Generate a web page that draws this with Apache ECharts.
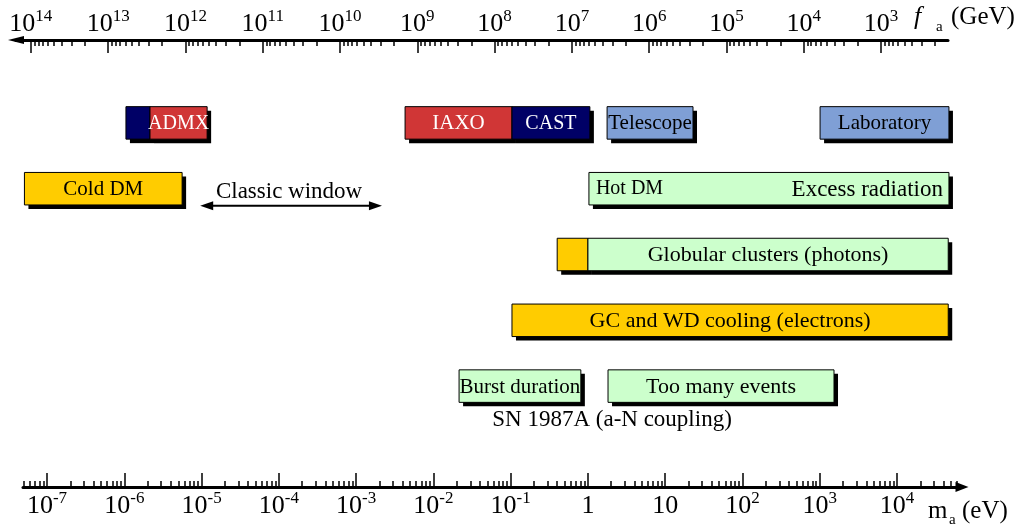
<!DOCTYPE html>
<html>
<head>
<meta charset="utf-8">
<script src="https://cdn.jsdelivr.net/npm/echarts@6/dist/echarts.min.js"></script>
<style>
html,body{margin:0;padding:0;background:#fff;}
#c{width:1021px;height:527px;}
</style>
</head>
<body>
<div id="c"></div>
<script>
// ---------------- data ----------------
// decade exponents labelled on the bottom (m_a, eV) axis
const maLabelExp = [-7, -6, -5, -4, -3, -2, -1, 0, 1, 2, 3, 4];
// decade exponents labelled on the top (f_a, GeV) axis
const faLabelExp = [14, 13, 12, 11, 10, 9, 8, 7, 6, 5, 4, 3];
// f_a [GeV] * m_a [eV]
const FA_TIMES_MA = 6.2e6;

// boxes: start / end mass (eV), row (0 = top), colour kind, label
const barStart = [1.05e-6, 2.15e-6, 4.3e-3, 0.104, 1.77, 1010, 5.1e-8, 1.03, 0.40, 1.0, 0.104, 0.0215, 1.82];
const barEnd   = [2.15e-6, 1.18e-5, 0.104, 1.06, 22.9, 4.7e4, 5.6e-6, 4.7e4, 1.0, 4.6e4, 4.6e4, 0.81, 1530];
const barRow   = [0, 0, 0, 0, 0, 0, 1, 1, 2, 2, 3, 4, 4];
const barKind  = ['navy', 'red', 'red', 'navy', 'blue', 'blue', 'gold', 'green', 'gold', 'green', 'gold', 'green', 'green'];
const barLabel = ['', 'ADMX', 'IAXO', 'CAST', 'Telescope', 'Laboratory', 'Cold DM', '', '',
                  'Globular clusters (photons)', 'GC and WD cooling (electrons)', 'Burst duration', 'Too many events'];

// labels pinned to an edge of the Hot DM box
const edgeLabelText = ['Hot DM', 'Excess radiation'];
const edgeLabelMass = [1.03, 4.7e4];
const edgeLabelRow  = [1, 1];
const edgeLabelSide = ['left', 'right'];

// classic window arrow
const windowText  = 'Classic window';
const windowRange = [9.6e-6, 2.16e-3];
const windowRow   = 1;

// SN 1987A caption
const snText = 'SN 1987A (a-N coupling)';
const snMass = 2.05;
const snRow  = 4;

// ---------------- styles ----------------
const SERIF = '"Liberation Serif", "Times New Roman", serif';
const COLORS = {navy: '#000066', red: '#d03636', blue: '#7f9fd5', gold: '#ffcc00', green: '#ccffcc'};
const TEXT_COLORS = {navy: '#ffffff', red: '#ffffff', blue: '#000', gold: '#000', green: '#000'};
const LABEL_SIZE = {'ADMX': 20, 'CAST': 20, 'Globular clusters (photons)': 22,
  'GC and WD cooling (electrons)': 22, 'Too many events': 22, 'Burst duration': 21};
const BAR_H = 32.5;
const SHADOW = 4;

const lg = Math.log10;
const massMin = -7.311, massMax = 4.841;   // bottom axis extent, log10(eV)
const topMin = -7.40, topMax = 4.659;      // top axis extent, log10(eV)
const lc = lg(FA_TIMES_MA);

const minorBottom = [];
for (let d = -8; d <= 4; d++) for (let k = 2; k <= 9; k++) {
  const v = d + lg(k); if (v > massMin && v < massMax) minorBottom.push(v);
}
const majorTop = faLabelExp.map(e => lc - e);
const minorTop = [];
for (let d = 2; d <= 14; d++) for (let k = 2; k <= 9; k++) {
  const v = lc - d - lg(k); if (v > topMin && v < topMax) minorTop.push(v);
}

const richLab = {
  b: {fontSize: 26, fontFamily: SERIF, color: '#000', lineHeight: 30},
  s: {fontSize: 17, fontFamily: SERIF, color: '#000', lineHeight: 16, padding: [0, 0, 15, 0]}
};

function hiddenY(g, extra) { return Object.assign({type: 'value', gridIndex: g, show: false, min: 0, max: 1}, extra || {}); }

const chart = echarts.init(document.getElementById('c'));

function rectOf(api) {
  const a = api.coord([api.value(0), api.value(2)]);
  const b = api.coord([api.value(1), api.value(2)]);
  return {x: a[0], y: a[1] - BAR_H / 2, width: b[0] - a[0], height: BAR_H};
}

const barData = barStart.map((s, i) => [lg(s), lg(barEnd[i]), barRow[i], i]);

const gridCommon = {outerBoundsMode: 'none', containLabel: false};

chart.setOption({
  backgroundColor: '#fff',
  animation: false,
  grid: [
    Object.assign({left: 23, right: 1021 - 962, bottom: 40, top: 300}, gridCommon),
    Object.assign({left: 23, right: 1021 - 962, bottom: 40, top: 300}, gridCommon),
    Object.assign({left: 16, right: 1021 - 948, top: 40, bottom: 300}, gridCommon),
    Object.assign({left: 16, right: 1021 - 948, top: 40, bottom: 300}, gridCommon),
    Object.assign({left: 23, right: 1021 - 962, top: 90, bottom: 108}, gridCommon)
  ],
  xAxis: [
    { // bottom major
      type: 'value', gridIndex: 0, min: massMin, max: massMax, position: 'bottom',
      splitLine: {show: false},
      axisLine: {show: true, onZero: false, lineStyle: {color: '#000', width: 3}, symbol: ['none', 'triangle'], symbolSize: [10, 13]},
      axisTick: {show: true, inside: true, length: 14, lineStyle: {color: '#000', width: 1.5}, customValues: maLabelExp},
      axisLabel: {show: true, margin: 4, customValues: maLabelExp, rich: richLab,
        formatter: v => { const e = Math.round(v); if (e === 0) return '{b|1}'; if (e === 1) return '{b|10}'; return '{b|10}{s|' + e + '}'; }}
    },
    { // bottom minor
      type: 'value', gridIndex: 1, min: massMin, max: massMax, position: 'bottom',
      splitLine: {show: false}, axisLine: {show: false, onZero: false}, axisLabel: {show: false},
      axisTick: {show: true, inside: true, length: 6, lineStyle: {color: '#000', width: 1.5}, customValues: minorBottom}
    },
    { // top major
      type: 'value', gridIndex: 2, min: topMin, max: topMax, position: 'top',
      splitLine: {show: false},
      axisLine: {show: true, onZero: false, lineStyle: {color: '#000', width: 3}, symbol: ['triangle', 'none'], symbolSize: [8, 16]},
      axisTick: {show: true, inside: true, length: 13, lineStyle: {color: '#000', width: 1.5}, customValues: majorTop},
      axisLabel: {show: true, margin: 1, customValues: majorTop, rich: richLab,
        formatter: v => '{b|10}{s|' + Math.round(lc - v) + '}'}
    },
    { // top minor
      type: 'value', gridIndex: 3, min: topMin, max: topMax, position: 'top',
      splitLine: {show: false}, axisLine: {show: false, onZero: false}, axisLabel: {show: false},
      axisTick: {show: true, inside: true, length: 6, lineStyle: {color: '#000', width: 1.5}, customValues: minorTop}
    },
    { type: 'value', gridIndex: 4, min: massMin, max: massMax, show: false }
  ],
  yAxis: [hiddenY(0), hiddenY(1), hiddenY(2), hiddenY(3), hiddenY(4, {min: -0.5, max: 4.5, inverse: true})],
  graphic: [
    {type: 'text', x: 914, y: 17, style: {text: 'f', fontSize: 26, fontStyle: 'italic', fontFamily: SERIF, fill: '#000', verticalAlign: 'middle'}},
    {type: 'text', x: 936, y: 27, style: {text: 'a', fontSize: 15, fontFamily: SERIF, fill: '#000', verticalAlign: 'middle'}},
    {type: 'text', x: 951, y: 17, style: {text: '(GeV)', fontSize: 25, fontFamily: SERIF, fill: '#000', verticalAlign: 'middle'}},
    {type: 'text', x: 928, y: 511, style: {text: 'm', fontSize: 25, fontFamily: SERIF, fill: '#000', verticalAlign: 'middle'}},
    {type: 'text', x: 949, y: 520, style: {text: 'a', fontSize: 15, fontFamily: SERIF, fill: '#000', verticalAlign: 'middle'}},
    {type: 'text', x: 962, y: 511, style: {text: '(eV)', fontSize: 25, fontFamily: SERIF, fill: '#000', verticalAlign: 'middle'}}
  ],
  series: [
    { // shadows
      type: 'custom', xAxisIndex: 4, yAxisIndex: 4, z: 1, silent: true,
      encode: {x: [0, 1], y: 2},
      data: barData,
      renderItem: (params, api) => {
        const r = rectOf(api);
        return {type: 'rect', shape: {x: r.x + SHADOW, y: r.y + SHADOW, width: r.width, height: r.height}, style: {fill: '#000'}};
      }
    },
    { // boxes
      type: 'custom', xAxisIndex: 4, yAxisIndex: 4, z: 2, silent: true,
      encode: {x: [0, 1], y: 2},
      data: barData,
      renderItem: (params, api) => {
        const r = rectOf(api);
        const i = api.value(3);
        const kind = barKind[i];
        const children = [{type: 'rect', shape: r, style: {fill: COLORS[kind], stroke: '#000', lineWidth: 1}}];
        if (barLabel[i]) {
          children.push({type: 'text', style: {text: barLabel[i], x: r.x + r.width / 2, y: r.y + r.height / 2 + 1,
            align: 'center', verticalAlign: 'middle', fill: TEXT_COLORS[kind],
            fontSize: LABEL_SIZE[barLabel[i]] || 21, fontFamily: SERIF}});
        }
        return {type: 'group', children};
      }
    },
    { // edge labels (Hot DM box)
      type: 'custom', xAxisIndex: 4, yAxisIndex: 4, z: 3, silent: true,
      encode: {x: 0, y: 1},
      data: edgeLabelMass.map((m, i) => [lg(m), edgeLabelRow[i], i]),
      renderItem: (params, api) => {
        const p = api.coord([api.value(0), api.value(1)]);
        const i = api.value(2);
        const left = edgeLabelSide[i] === 'left';
        return {type: 'text', style: {text: edgeLabelText[i], x: p[0] + (left ? 7 : -6), y: p[1] + (left ? 0 : 1),
          align: left ? 'left' : 'right', verticalAlign: 'middle', fill: '#000',
          fontSize: left ? 20 : 23, fontFamily: SERIF}};
      }
    },
    { // classic window arrow
      type: 'custom', xAxisIndex: 4, yAxisIndex: 4, z: 3, silent: true,
      encode: {x: [0, 1], y: 2},
      data: [[lg(windowRange[0]), lg(windowRange[1]), windowRow]],
      renderItem: (params, api) => {
        const a = api.coord([api.value(0), api.value(2)]);
        const b = api.coord([api.value(1), api.value(2)]);
        const y = a[1] + 17;
        return {type: 'group', children: [
          {type: 'line', shape: {x1: a[0] + 8, y1: y, x2: b[0] - 8, y2: y}, style: {stroke: '#000', lineWidth: 2}},
          {type: 'polygon', shape: {points: [[a[0], y], [a[0] + 13, y - 4.5], [a[0] + 13, y + 4.5]]}, style: {fill: '#000'}},
          {type: 'polygon', shape: {points: [[b[0], y], [b[0] - 13, y - 4.5], [b[0] - 13, y + 4.5]]}, style: {fill: '#000'}},
          {type: 'text', style: {text: windowText, x: (a[0] + b[0]) / 2 - 2, y: a[1] + 3, align: 'center', verticalAlign: 'middle',
            fill: '#000', fontSize: 23, fontFamily: SERIF}}
        ]};
      }
    },
    { // SN 1987A caption
      type: 'custom', xAxisIndex: 4, yAxisIndex: 4, z: 3, silent: true,
      encode: {x: 0, y: 1},
      data: [[lg(snMass), snRow]],
      renderItem: (params, api) => {
        const p = api.coord([api.value(0), api.value(1)]);
        return {type: 'text', style: {text: snText, x: p[0], y: p[1] + 34, align: 'center', verticalAlign: 'middle',
          fill: '#000', fontSize: 23, fontFamily: SERIF}};
      }
    }
  ]
});
</script>
</body>
</html>
